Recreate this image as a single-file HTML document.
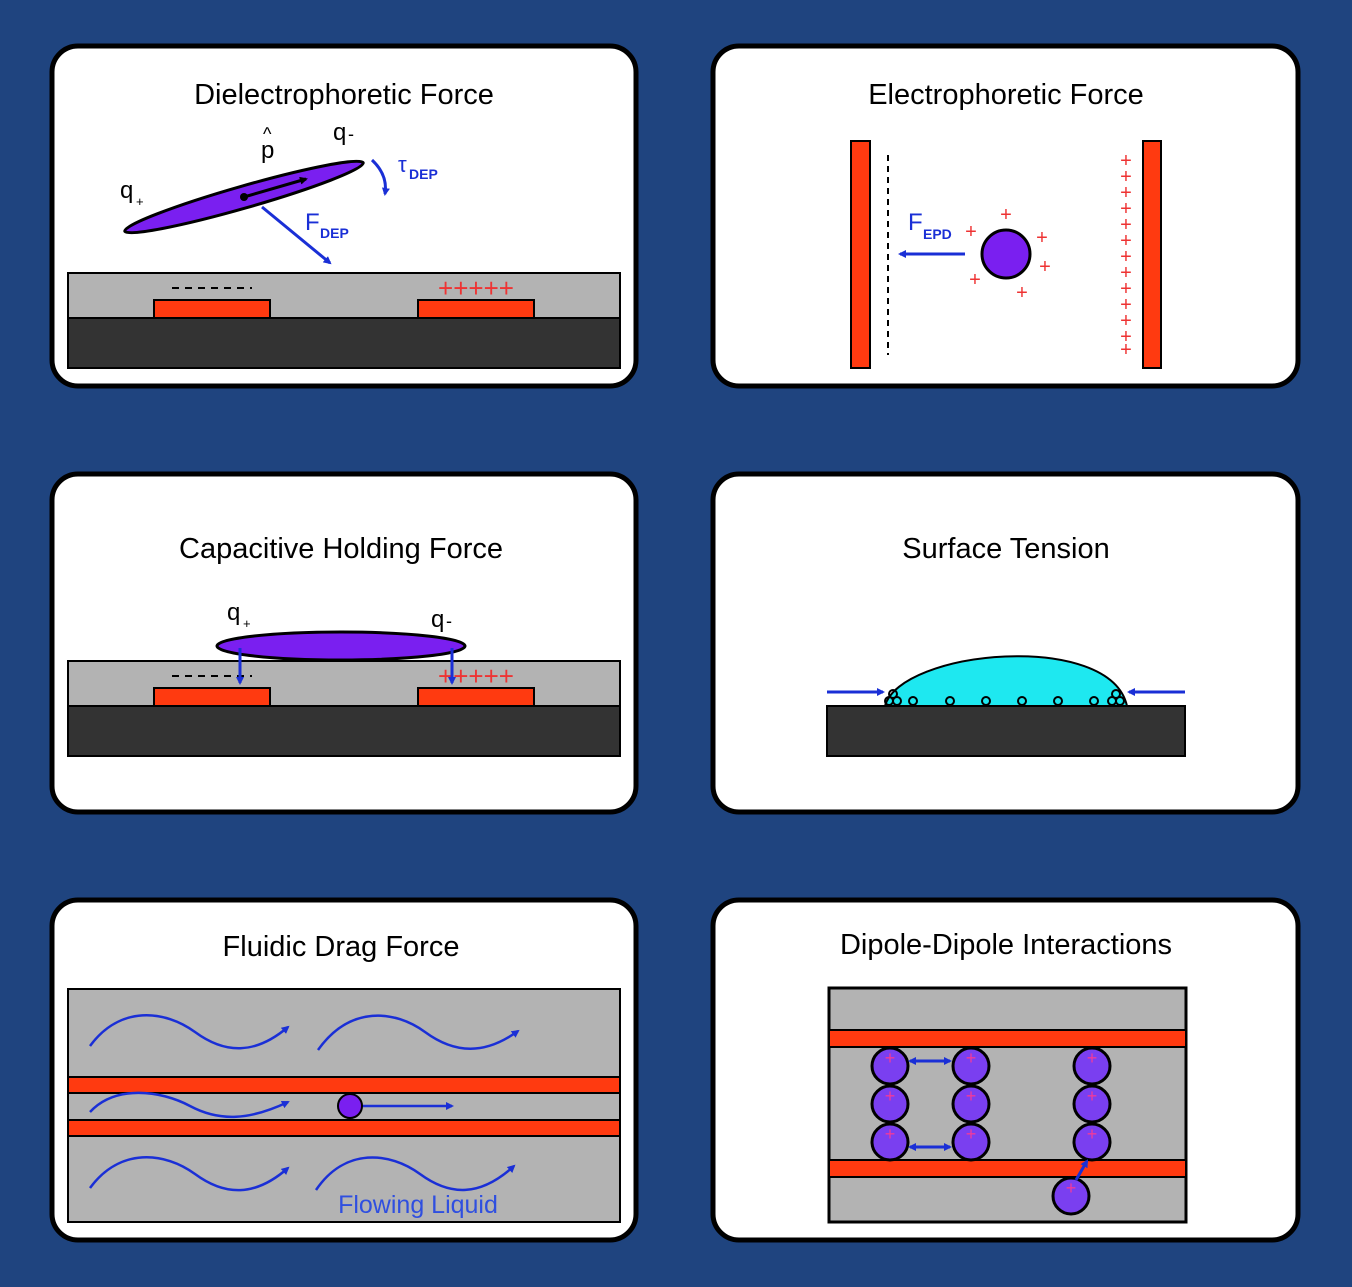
<!DOCTYPE html>
<html><head><meta charset="utf-8"><style>
body{margin:0;background:#1f447f;}
svg{display:block}
text{font-family:"Liberation Sans",sans-serif}
</style></head><body>
<svg width="1352" height="1287" viewBox="0 0 1352 1287">
<defs>
<marker id="ab" markerWidth="8" markerHeight="8" refX="6" refY="4" orient="auto" markerUnits="userSpaceOnUse"><path d="M0,0 L8,4 L0,8 z" fill="#1a2fd6"/></marker>
<marker id="abs" markerWidth="8" markerHeight="8" refX="2" refY="4" orient="auto" markerUnits="userSpaceOnUse"><path d="M8,0 L0,4 L8,8 z" fill="#1a2fd6"/></marker>
<marker id="ak" markerWidth="8" markerHeight="8" refX="6" refY="4" orient="auto" markerUnits="userSpaceOnUse"><path d="M0,0 L8,4 L0,8 z" fill="#000"/></marker>
</defs>
<rect width="1352" height="1287" fill="#1f447f"/>

<g>
<rect x="52" y="46" width="584" height="340" rx="26" fill="#fff" stroke="#000" stroke-width="5"/>
<text x="344" y="104" font-size="29" text-anchor="middle">Dielectrophoretic Force</text>
<rect x="68" y="273" width="552" height="45" fill="#b3b3b3" stroke="#000" stroke-width="2"/>
<rect x="68" y="318" width="552" height="50" fill="#333" stroke="#000" stroke-width="2"/>
<rect x="154" y="300" width="116" height="18" fill="#ff3a10" stroke="#000" stroke-width="2"/>
<rect x="418" y="300" width="116" height="18" fill="#ff3a10" stroke="#000" stroke-width="2"/>
<line x1="172" y1="288" x2="252" y2="288" stroke="#000" stroke-width="2" stroke-dasharray="7,6"/>
<text x="476" y="297" font-size="26" fill="#e33" text-anchor="middle">+++++</text>
<ellipse cx="244" cy="197" rx="124" ry="11" transform="rotate(-16 244 197)" fill="#7a1ff0" stroke="#000" stroke-width="3"/>
<circle cx="244" cy="197" r="4" fill="#000"/>
<line x1="244" y1="197" x2="306" y2="179" stroke="#000" stroke-width="3" marker-end="url(#ak)"/>
<line x1="262" y1="207" x2="330" y2="263" stroke="#1a2fd6" stroke-width="3" marker-end="url(#ab)"/>
<path d="M372,160 Q388,175 385,194" fill="none" stroke="#1a2fd6" stroke-width="3" marker-end="url(#ab)"/>
<text x="120" y="198" font-size="24">q</text><text x="136" y="206" font-size="13">+</text>
<text x="261" y="158" font-size="24">p</text><text x="263" y="140" font-size="18">^</text>
<text x="333" y="140" font-size="24">q</text><text x="348" y="140" font-size="18">-</text>
<text x="398" y="172" font-size="22" fill="#1a2fd6">τ</text><text x="409" y="179" font-size="14" fill="#1a2fd6" font-weight="bold">DEP</text>
<text x="305" y="230" font-size="24" fill="#1a2fd6">F</text><text x="320" y="238" font-size="14" fill="#1a2fd6" font-weight="bold">DEP</text>
</g>

<g>
<rect x="713" y="46" width="585" height="340" rx="26" fill="#fff" stroke="#000" stroke-width="5"/>
<text x="1006" y="104" font-size="29" text-anchor="middle">Electrophoretic Force</text>
<rect x="851" y="141" width="19" height="227" fill="#ff3a10" stroke="#000" stroke-width="2"/>
<rect x="1143" y="141" width="18" height="227" fill="#ff3a10" stroke="#000" stroke-width="2"/>
<line x1="888" y1="155" x2="888" y2="355" stroke="#000" stroke-width="2" stroke-dasharray="6,5"/>
<g fill="#e33" font-size="20" text-anchor="middle">
<text x="1126" y="167">+</text><text x="1126" y="183">+</text><text x="1126" y="199">+</text><text x="1126" y="215">+</text><text x="1126" y="231">+</text><text x="1126" y="247">+</text><text x="1126" y="263">+</text><text x="1126" y="279">+</text><text x="1126" y="295">+</text><text x="1126" y="311">+</text><text x="1126" y="327">+</text><text x="1126" y="343">+</text><text x="1126" y="356">+</text>
<text x="1006" y="221">+</text><text x="971" y="238">+</text><text x="1042" y="244">+</text><text x="1045" y="273">+</text><text x="975" y="286">+</text><text x="1022" y="299">+</text>
</g>
<circle cx="1006" cy="254" r="24" fill="#7a1ff0" stroke="#000" stroke-width="3"/>
<line x1="965" y1="254" x2="900" y2="254" stroke="#1a2fd6" stroke-width="3" marker-end="url(#ab)"/>
<text x="908" y="230" font-size="24" fill="#1a2fd6">F</text><text x="923" y="239" font-size="14" fill="#1a2fd6" font-weight="bold">EPD</text>
</g>

<g>
<rect x="52" y="474" width="584" height="338" rx="26" fill="#fff" stroke="#000" stroke-width="5"/>
<text x="341" y="558" font-size="29" text-anchor="middle">Capacitive Holding Force</text>
<rect x="68" y="661" width="552" height="45" fill="#b3b3b3" stroke="#000" stroke-width="2"/>
<rect x="68" y="706" width="552" height="50" fill="#333" stroke="#000" stroke-width="2"/>
<rect x="154" y="688" width="116" height="18" fill="#ff3a10" stroke="#000" stroke-width="2"/>
<rect x="418" y="688" width="116" height="18" fill="#ff3a10" stroke="#000" stroke-width="2"/>
<line x1="172" y1="676" x2="252" y2="676" stroke="#000" stroke-width="2" stroke-dasharray="7,6"/>
<text x="476" y="685" font-size="26" fill="#e33" text-anchor="middle">+++++</text>
<ellipse cx="341" cy="646" rx="124" ry="14" fill="#7a1ff0" stroke="#000" stroke-width="3"/>
<line x1="240" y1="648" x2="240" y2="683" stroke="#1a2fd6" stroke-width="3" marker-end="url(#ab)"/>
<line x1="452" y1="648" x2="452" y2="683" stroke="#1a2fd6" stroke-width="3" marker-end="url(#ab)"/>
<text x="227" y="620" font-size="24">q</text><text x="243" y="628" font-size="13">+</text>
<text x="431" y="627" font-size="24">q</text><text x="446" y="627" font-size="18">-</text>
</g>

<g>
<rect x="713" y="474" width="585" height="338" rx="26" fill="#fff" stroke="#000" stroke-width="5"/>
<text x="1006" y="558" font-size="29" text-anchor="middle">Surface Tension</text>
<rect x="827" y="706" width="358" height="50" fill="#333" stroke="#000" stroke-width="2"/>
<path d="M885,706 C900,650 1110,630 1127,706 Z" fill="#1ee8f0" stroke="#000" stroke-width="2"/>
<g fill="none" stroke="#000" stroke-width="2">
<circle cx="889" cy="701" r="4"/><circle cx="897" cy="701" r="4"/><circle cx="913" cy="701" r="4"/><circle cx="950" cy="701" r="4"/><circle cx="986" cy="701" r="4"/><circle cx="1022" cy="701" r="4"/><circle cx="1058" cy="701" r="4"/><circle cx="1094" cy="701" r="4"/><circle cx="1112" cy="701" r="4"/><circle cx="1120" cy="701" r="4"/><circle cx="1116" cy="694" r="4"/><circle cx="893" cy="694" r="4"/>
</g>
<line x1="827" y1="692" x2="883" y2="692" stroke="#1a2fd6" stroke-width="3" marker-end="url(#ab)"/>
<line x1="1185" y1="692" x2="1129" y2="692" stroke="#1a2fd6" stroke-width="3" marker-end="url(#ab)"/>
</g>

<g>
<rect x="52" y="900" width="584" height="340" rx="26" fill="#fff" stroke="#000" stroke-width="5"/>
<text x="341" y="956" font-size="29" text-anchor="middle">Fluidic Drag Force</text>
<rect x="68" y="989" width="552" height="233" fill="#b3b3b3" stroke="#000" stroke-width="2"/>
<rect x="68" y="1077" width="552" height="16" fill="#ff3a10" stroke="#000" stroke-width="2"/>
<rect x="68" y="1120" width="552" height="16" fill="#ff3a10" stroke="#000" stroke-width="2"/>
<g fill="none" stroke="#1a2fd6" stroke-width="2.5" marker-end="url(#ab)">
<path d="M90,1046 C120,1005 165,1010 195,1032 S255,1055 288,1027"/>
<path d="M318,1050 C350,1005 395,1010 425,1032 S485,1055 518,1031"/>
<path d="M90,1112 C115,1085 160,1090 190,1106 S250,1120 288,1102"/>
<path d="M90,1188 C120,1147 165,1152 195,1174 S255,1197 288,1168"/>
<path d="M316,1190 C345,1147 390,1152 420,1174 S480,1197 514,1166"/>
<line x1="362" y1="1106" x2="452" y2="1106"/>
</g>
<circle cx="350" cy="1106" r="12" fill="#7a1ff0" stroke="#000" stroke-width="2"/>
<text x="418" y="1213" font-size="25" fill="#2f4fe0" text-anchor="middle">Flowing Liquid</text>
</g>

<g>
<rect x="713" y="900" width="585" height="340" rx="26" fill="#fff" stroke="#000" stroke-width="5"/>
<text x="1006" y="954" font-size="29" text-anchor="middle">Dipole-Dipole Interactions</text>
<rect x="829" y="988" width="357" height="234" fill="#b3b3b3" stroke="#000" stroke-width="3"/>
<rect x="829" y="1030" width="357" height="17" fill="#ff3a10" stroke="#000" stroke-width="2"/>
<rect x="829" y="1160" width="357" height="17" fill="#ff3a10" stroke="#000" stroke-width="2"/>
<g fill="#7a3ff0" stroke="#000" stroke-width="3">
<circle cx="890" cy="1066" r="18"/><circle cx="890" cy="1104" r="18"/><circle cx="890" cy="1142" r="18"/>
<circle cx="971" cy="1066" r="18"/><circle cx="971" cy="1104" r="18"/><circle cx="971" cy="1142" r="18"/>
<circle cx="1092" cy="1066" r="18"/><circle cx="1092" cy="1104" r="18"/><circle cx="1092" cy="1142" r="18"/>
<circle cx="1071" cy="1196" r="18"/>
</g>
<g fill="#f03a9a" font-size="18" text-anchor="middle">
<text x="890" y="1064">+</text><text x="890" y="1102">+</text><text x="890" y="1140">+</text>
<text x="971" y="1064">+</text><text x="971" y="1102">+</text><text x="971" y="1140">+</text>
<text x="1092" y="1064">+</text><text x="1092" y="1102">+</text><text x="1092" y="1140">+</text>
<text x="1071" y="1194">+</text>
</g>
<g stroke="#1a2fd6" stroke-width="3" marker-end="url(#ab)" marker-start="url(#abs)">
<line x1="910" y1="1061" x2="950" y2="1061"/>
<line x1="910" y1="1147" x2="950" y2="1147"/>
</g>
<line x1="1076" y1="1180" x2="1087" y2="1161" stroke="#1a2fd6" stroke-width="3" marker-end="url(#ab)"/>
</g>
</svg>
</body></html>
